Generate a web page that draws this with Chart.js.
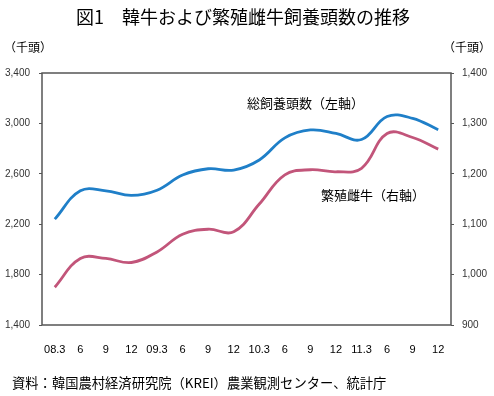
<!DOCTYPE html>
<html>
<head>
<meta charset="utf-8">
<script src="https://cdn.jsdelivr.net/npm/chart.js@4"></script>
<style>
  html,body{margin:0;padding:0;background:#fff;}
  #wrap{width:494px;height:396px;position:relative;}
</style>
</head>
<body>
<div id="wrap"><canvas id="c" width="494" height="396"></canvas></div>
<script>
// 四半期ラベル (08.3 ～ 11.12)
const quarters = ["08.3","6","9","12","09.3","6","9","12","10.3","6","9","12","11.3","6","9","12"];
// 総飼養頭数 (千頭, 左軸)
const totalHead = [2240,2465,2465,2428,2470,2590,2640,2630,2710,2885,2948,2920,2872,3055,3040,2950];
// 繁殖雌牛 (千頭, 右軸)
const breedingCows = [975,1032,1032,1024,1045,1080,1090,1085,1140,1198,1208,1204,1211,1280,1272,1249];

const JP = '"Noto Sans CJK JP", "Noto Sans", sans-serif';
const NUM = '"Liberation Sans", Arial, sans-serif';

const fixW = w => (s)=>{ s.width = w; };
const fixH = h => (s)=>{ s.height = h; };

// 枠・タイトル・注記
const decor = {
  id:"decor",
  afterDraw(chart){
    const {ctx, chartArea:a} = chart;
    ctx.save();
    ctx.strokeStyle="#555"; ctx.lineWidth=1.5;
    ctx.strokeRect(a.left, a.top, a.right-a.left, a.bottom-a.top);
    ctx.fillStyle="#000"; ctx.textBaseline="middle";
    ctx.font="18px "+JP; ctx.textAlign="center";
    ctx.fillText("図1　韓牛および繁殖雌牛飼養頭数の推移", 243, 17);
    ctx.font="12px "+JP; ctx.textAlign="left";
    ctx.fillText("（千頭）", 4, 47);
    ctx.fillText("（千頭）", 443, 47);
    ctx.font="13px "+JP;
    ctx.fillText("総飼養頭数（左軸）", 247, 103);
    ctx.fillText("繁殖雌牛（右軸）", 321, 195);
    ctx.font="13.3px "+JP;
    ctx.fillText("資料：韓国農村経済研究院（KREI）農業観測センター、統計庁", 12, 383);
    ctx.restore();
  }
};

new Chart(document.getElementById("c"), {
  type:"line",
  data:{
    labels: quarters,
    datasets:[
      { label:"総飼養頭数", data: totalHead, yAxisID:"y", borderColor:"#1f7fc8", borderWidth:2.8,
        pointRadius:0, tension:0.4, fill:false },
      { label:"繁殖雌牛", data: breedingCows, yAxisID:"y1", borderColor:"#c2557a", borderWidth:2.8,
        pointRadius:0, tension:0.4, fill:false }
    ]
  },
  options:{
    responsive:false, animation:false, devicePixelRatio:1,
    layout:{ padding:{ top:73, left:0, right:0, bottom:0 } },
    plugins:{ legend:{display:false}, tooltip:{enabled:false} },
    scales:{
      x:{
        offset:true,
        grid:{ display:false }, border:{ display:false },
        ticks:{ color:"#000", font:{ family:NUM, size:11 }, padding:10, maxRotation:0, autoSkip:false },
        afterFit: fixH(71)
      },
      y:{
        position:"left", min:1400, max:3400,
        grid:{ drawOnChartArea:false, tickLength:3, color:"#555" }, border:{ display:false },
        ticks:{ stepSize:400, color:"#333", font:{ family:NUM, size:10 }, padding:9,
          callback:v=>v.toLocaleString("en-US") },
        afterFit: fixW(42)
      },
      y1:{
        position:"right", min:900, max:1400,
        grid:{ drawOnChartArea:false, tickLength:3, color:"#555" }, border:{ display:false },
        ticks:{ stepSize:100, color:"#333", font:{ family:NUM, size:10 }, padding:8,
          callback:v=>v.toLocaleString("en-US") },
        afterFit: fixW(43)
      }
    }
  },
  plugins:[decor]
});
</script>
</body>
</html>
